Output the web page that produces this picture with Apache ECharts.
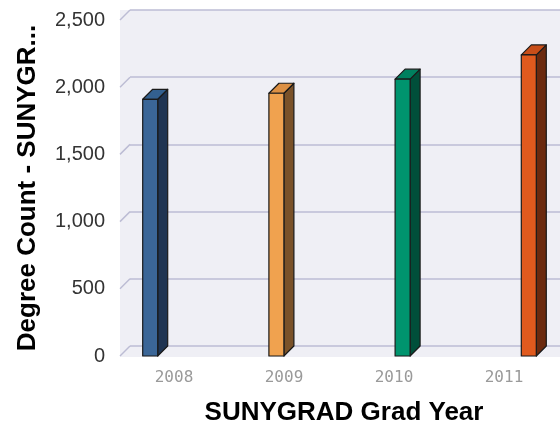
<!DOCTYPE html>
<html>
<head>
<meta charset="utf-8">
<script src="https://cdn.jsdelivr.net/npm/echarts@6/dist/echarts.min.js"></script>
<style>
  html, body { margin: 0; padding: 0; background: #fff; }
  #main { width: 560px; height: 428px; }
</style>
</head>
<body>
<div id="main"></div>
<script>
// data
var years = ['2008', '2009', '2010', '2011'];
var degreeCounts = [1910, 1955, 2060, 2240];
var yTicks = [0, 500, 1000, 1500, 2000, 2500];

// colours per year: front / side / top face
var frontColors = ['#3b6697', '#f0a24f', '#00946e', '#e05a1e'];
var sideColors = ['#1f3452', '#7a5229', '#004f3a', '#6b2a0f'];
var topColors = ['#33608f', '#dc9044', '#00805f', '#c84e19'];

var DX = 10, DY = 10;      // fake 3d depth
var BAR_W = 15, STEP = 16.2; // grouped bar width / step between series slots
var edge = { stroke: '#1a1a1a', lineWidth: 1.2, lineJoin: 'round' };

var chart = echarts.init(document.getElementById('main'));

// 3d bar, each year sits in its own series slot like a grouped bar chart
function renderBar(params, api) {
  var i = api.value(0);
  var base = api.coord([i, 0]);
  var top = api.coord([i, api.value(1)]);
  var off = (i - (years.length - 1) / 2) * STEP + 0.5;
  var x0 = base[0] + off - BAR_W / 2;
  var x1 = x0 + BAR_W;
  var yT = top[1], yB = base[1];
  return {
    type: 'group',
    children: [
      { type: 'polygon', shape: { points: [[x1, yT], [x1 + DX, yT - DY], [x1 + DX, yB - DY], [x1, yB]] },
        style: Object.assign({ fill: sideColors[i] }, edge) },
      { type: 'polygon', shape: { points: [[x0, yT], [x0 + DX, yT - DY], [x1 + DX, yT - DY], [x1, yT]] },
        style: Object.assign({ fill: topColors[i] }, edge) },
      { type: 'rect', shape: { x: x0, y: yT, width: BAR_W, height: yB - yT },
        style: Object.assign({ fill: frontColors[i] }, edge) }
    ]
  };
}

// little slanted line joining front tick to back wall grid line
function renderWallEdge(params, api) {
  var p = api.coord([0, api.value(0)]);
  var x = params.coordSys.x;
  return {
    type: 'line',
    shape: { x1: x + 1, y1: p[1], x2: x + 1 + DX, y2: p[1] - DY },
    style: { stroke: '#bcbcd4', lineWidth: 1.5 }
  };
}

var option = {
  animation: false,
  grid: [
    // front plane: labels + bars
    { left: 119, right: 1, top: 20, bottom: 72, outerBoundsMode: 'none' },
    // back wall: grid lines
    { left: 130, right: 0, top: 10, bottom: 82, outerBoundsMode: 'none' },
    // background
    { left: 120, right: 0, top: 10, bottom: 71, outerBoundsMode: 'none',
      show: true, backgroundColor: '#efeff5', borderWidth: 0 }
  ],
  xAxis: [
    {
      type: 'category', gridIndex: 0, data: years,
      axisLine: { show: false }, axisTick: { show: false },
      axisLabel: { margin: 14, color: '#9a9a9a', fontSize: 16, fontFamily: 'DejaVu Sans Mono' },
      name: 'SUNYGRAD Grad Year', nameLocation: 'middle', nameGap: 44,
      nameTextStyle: { fontFamily: 'Liberation Sans', fontWeight: 'bold', fontSize: 26, color: '#000', padding: [0, 0, 0, 10] }
    },
    { type: 'category', gridIndex: 1, data: years, show: false },
    { type: 'category', gridIndex: 2, data: years, show: false }
  ],
  yAxis: [
    {
      type: 'value', gridIndex: 0, min: 0, max: 2500, interval: 500,
      axisLine: { show: false }, axisTick: { show: false }, splitLine: { show: false },
      axisLabel: {
        margin: 14, color: '#333', fontSize: 20, fontFamily: 'Liberation Sans',
        formatter: function (v) { return v.toLocaleString('en-US'); }
      },
      name: 'Degree Count - SUNYGR...', nameLocation: 'middle', nameGap: 78, nameRotate: 90,
      nameTextStyle: { fontFamily: 'Liberation Sans', fontWeight: 'bold', fontSize: 26, color: '#000' }
    },
    {
      type: 'value', gridIndex: 1, min: 0, max: 2500, interval: 500,
      axisLine: { show: false }, axisTick: { show: false }, axisLabel: { show: false },
      splitLine: { show: true, lineStyle: { color: '#bcbcd4', width: 1.5 } }
    },
    { type: 'value', gridIndex: 2, show: false }
  ],
  series: [
    {
      type: 'custom', xAxisIndex: 0, yAxisIndex: 0,
      renderItem: renderWallEdge,
      data: yTicks.map(function (v) { return [v]; }),
      encode: { y: 0 }, z: 1, silent: true
    },
    {
      type: 'custom', xAxisIndex: 0, yAxisIndex: 0,
      renderItem: renderBar,
      data: years.map(function (y, i) { return [i, degreeCounts[i]]; }),
      encode: { x: 0, y: 1 }, z: 5
    }
  ]
};

chart.setOption(option);
</script>
</body>
</html>
